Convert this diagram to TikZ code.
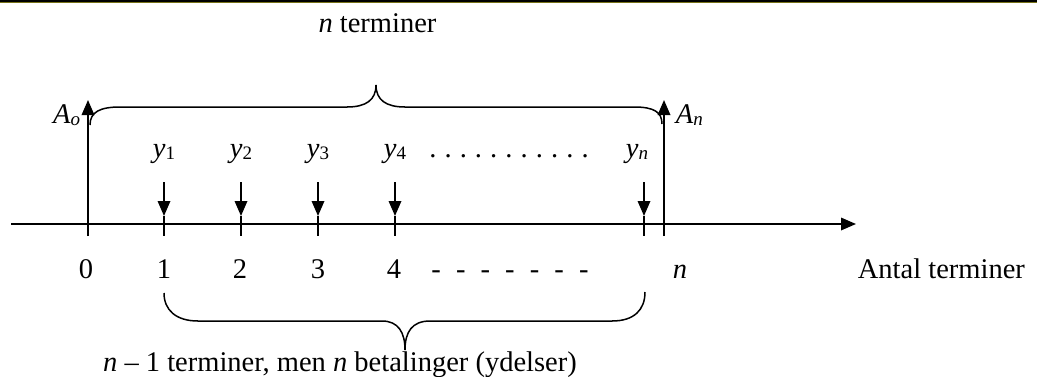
\documentclass[tikz,border=0pt]{standalone}
\usepackage{fontspec}
\setmainfont{Liberation Serif}
\usetikzlibrary{arrows.meta}
\newcommand{\mysub}[1]{\raisebox{-2.5pt}{\fontsize{19}{19}\selectfont #1}}
\begin{document}
\begin{tikzpicture}[x=1pt,y=-1pt,line width=1.8pt,
  lbl/.style={font=\fontsize{28.5}{34}\selectfont, inner sep=0pt, anchor=base},
  uptip/.style={-{Triangle[length=15pt,width=12.5pt]}},
  brace/.style={line width=1.5pt}]
\useasboundingbox (0,0) rectangle (1037,376);
\fill[black] (0,0) rectangle (1037,2.2);
\fill[olive!80!black] (0,2.2) rectangle (1037,3.0);
% axis
\coordinate (ax0) at (11,224);
\coordinate (ax1) at (856,224);
\draw[uptip] (ax0) -- (ax1);
% A_o and A_n arrows
\coordinate (b0) at (88,236);
\coordinate (t0) at (88,100);
\coordinate (bn) at (664,236);
\coordinate (tn) at (664,100);
\draw[uptip] (b0) -- (t0);
\draw[uptip] (bn) -- (tn);
% payment arrows and ticks
\foreach \k/\x in {1/164,2/241,3/318,4/395,n/644}{
  \coordinate (p\k) at (\x,182);
  \coordinate (h\k) at (\x,216);
  \coordinate (q\k) at (\x,236);
  \draw (h\k) -- (q\k);
  \draw[uptip] (p\k) -- (h\k);
}
% labels
\node[lbl,anchor=base east] (Ao) at (81,123) {\textit{A}\mysub{\textit{o}}};
\node[lbl,anchor=base west] (An) at (675,123) {\textit{A}\mysub{\textit{n}}};
\node[lbl] (y1) at (164,157) {\textit{y}\mysub{1}};
\node[lbl] (y2) at (241,157) {\textit{y}\mysub{2}};
\node[lbl] (y3) at (318,157) {\textit{y}\mysub{3}};
\node[lbl] (y4) at (395,157) {\textit{y}\mysub{4}};
\node[lbl] (yn) at (637,157) {\textit{y}\mysub{\textit{n}}};
\node[lbl] (dots) at (509,157) {.\hspace{8.1pt}.\hspace{8.1pt}.\hspace{8.1pt}.\hspace{8.1pt}.\hspace{8.1pt}.\hspace{8.1pt}.\hspace{8.1pt}.\hspace{8.1pt}.\hspace{8.1pt}.\hspace{8.1pt}.};
\node[lbl] (n0) at (86,278) {0};
\node[lbl] (n1) at (164,278) {1};
\node[lbl] (n2) at (240,278) {2};
\node[lbl] (n3) at (318,278) {3};
\node[lbl] (n4) at (394,278) {4};
\node[lbl] (dash) at (510,278) {-\hspace{15.1pt}-\hspace{15.1pt}-\hspace{15.1pt}-\hspace{15.1pt}-\hspace{15.1pt}-\hspace{15.1pt}-};
\node[lbl] (nn) at (680,278) {\textit{n}};
\node[lbl,anchor=base west] (antal) at (857,278) {Antal terminer};
\node[lbl] (top) at (377.5,32) {\textit{n} terminer};
\node[lbl] (bot) at (340,371) {\textit{n} – 1 terminer, men \textit{n} betalinger (ydelser)};
% top brace
\draw[brace] (90,125) .. controls (90,112) and (100,107) .. (120,107)
  -- (347,107) .. controls (366,107) and (376,100) .. (376,85)
  .. controls (376,100) and (386,107) .. (405,107)
  -- (634,107) .. controls (654,107) and (662,112) .. (662,124);
% bottom brace
\draw[brace] (164,293) .. controls (164,310) and (176,321) .. (198,321)
  -- (382,321) .. controls (398,321) and (405,332) .. (405,350)
  .. controls (405,332) and (412,321) .. (430,321)
  -- (612,321) .. controls (634,321) and (645,310) .. (645,292);
\end{tikzpicture}
\end{document}
